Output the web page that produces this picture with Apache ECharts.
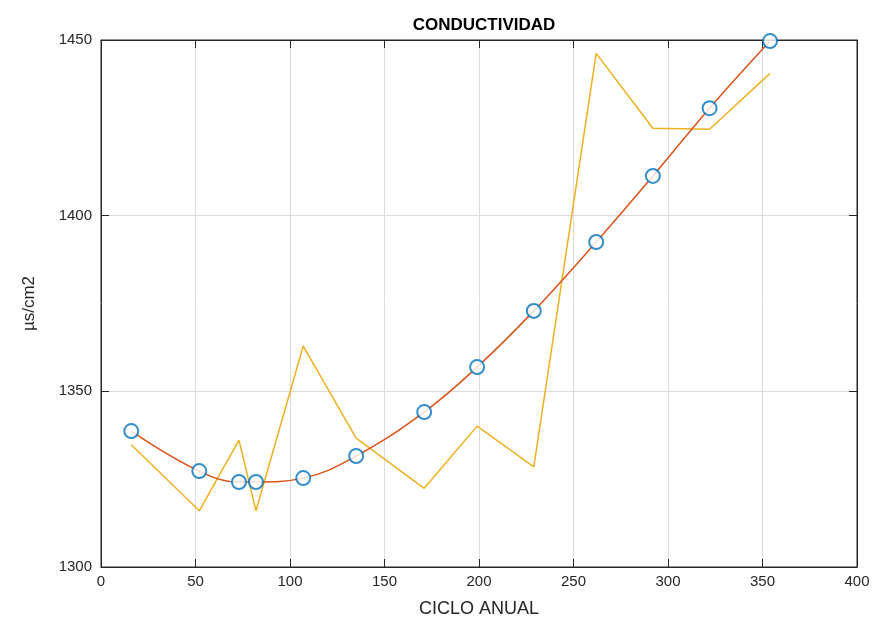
<!DOCTYPE html>
<html>
<head>
<meta charset="utf-8">
<script src="https://cdn.jsdelivr.net/npm/echarts@6/dist/echarts.min.js"></script>
<style>
  html, body { margin: 0; padding: 0; background: #fff; }
  #chart { width: 878px; height: 618px; }
</style>
</head>
<body>
<div id="chart"></div>
<script>
// dias del ciclo anual
var dias = [16, 52, 73, 82, 107, 135, 171, 199, 229, 262, 292, 322, 354]
// valores medidos (linea amarilla)
var medido = [1334.8, 1316.0, 1336.1, 1316.0, 1362.9, 1336.7, 1322.4, 1340.1, 1328.5, 1446.2, 1424.9, 1424.6, 1440.5]
// ajuste (circulos azules y curva naranja)
var ajuste = [1338.7, 1327.3, 1324.2, 1324.2, 1325.3, 1331.6, 1344.1, 1356.9, 1372.9, 1392.5, 1411.3, 1430.6, 1449.7]

var ticksX = [0, 50, 100, 150, 200, 250, 300, 350, 400]
var ticksY = [1300, 1350, 1400, 1450]

function pares (xs, ys) {
    return xs.map(function (x, i) { return [x, ys[i]] })
}

var font = 'Liberation Sans, Arial, Helvetica, sans-serif'
var axisColor = '#262626'

// eje sin etiquetas, solo con marcas hacia dentro
function ejeMarcas (pos, min, max) {
    return {
        type: 'value', position: pos, offset: 0,
        min: min, max: max, interval: 50,
        axisLine: { show: true, onZero: false, lineStyle: { color: axisColor } },
        axisTick: { show: true, inside: true, length: 8, lineStyle: { color: axisColor } },
        axisLabel: { show: false },
        splitLine: { show: false }
    }
}

var chart = echarts.init(document.getElementById('chart'))
var option = {
    animation: false,
    title: {
        text: 'CONDUCTIVIDAD',
        left: 479,
        top: 12,
        textAlign: 'center',
        textStyle: { fontFamily: font, fontSize: 17, fontWeight: 'bold', color: '#000' }
    },
    grid: {
        left: 101, right: 21, top: 40, bottom: 51,
        outerBoundsMode: 'none',
        show: true, borderColor: axisColor, borderWidth: 1, backgroundColor: '#fff'
    },
    xAxis: [{
        type: 'value', position: 'bottom',
        min: ticksX[0], max: ticksX[ticksX.length - 1], interval: 50,
        name: 'CICLO ANUAL', nameLocation: 'middle', nameGap: 33,
        nameTextStyle: { fontFamily: font, fontSize: 18, color: axisColor },
        axisLine: { show: true, onZero: false, lineStyle: { color: axisColor } },
        axisTick: { show: true, inside: true, length: 8, lineStyle: { color: axisColor } },
        axisLabel: { fontFamily: font, fontSize: 15, color: axisColor, margin: 7 },
        splitLine: { show: true, lineStyle: { color: '#dcdcdc' } }
    },
    ejeMarcas('top', ticksX[0], ticksX[ticksX.length - 1])],
    yAxis: [{
        type: 'value', position: 'left',
        min: ticksY[0], max: ticksY[ticksY.length - 1], interval: 50,
        name: 'µs/cm2', nameLocation: 'middle', nameGap: 63,
        nameTextStyle: { fontFamily: font, fontSize: 17, color: axisColor },
        axisLine: { show: true, onZero: false, lineStyle: { color: axisColor } },
        axisTick: { show: true, inside: true, length: 8, lineStyle: { color: axisColor } },
        axisLabel: { fontFamily: font, fontSize: 15, color: axisColor, margin: 9, formatter: function (v) { return String(v) } },
        splitLine: { show: true, lineStyle: { color: '#dcdcdc' } }
    },
    ejeMarcas('right', ticksY[0], ticksY[ticksY.length - 1])],
    series: [{
        name: 'medido',
        type: 'line',
        data: pares(dias, medido),
        symbol: 'none',
        lineStyle: { color: '#EDB120', width: 1.5 },
        z: 2
    }, {
        name: 'curva',
        type: 'line',
        data: pares(dias, ajuste),
        smooth: 0.4,
        symbol: 'none',
        lineStyle: { color: '#D95319', width: 1.5 },
        z: 3
    }, {
        name: 'ajuste',
        type: 'scatter',
        data: pares(dias, ajuste),
        symbol: 'emptyCircle',
        symbolSize: 14,
        itemStyle: { color: '#0072BD', borderColor: '#0072BD', borderWidth: 1.5 },
        z: 4
    }]
}
chart.setOption(option)
</script>
</body>
</html>
